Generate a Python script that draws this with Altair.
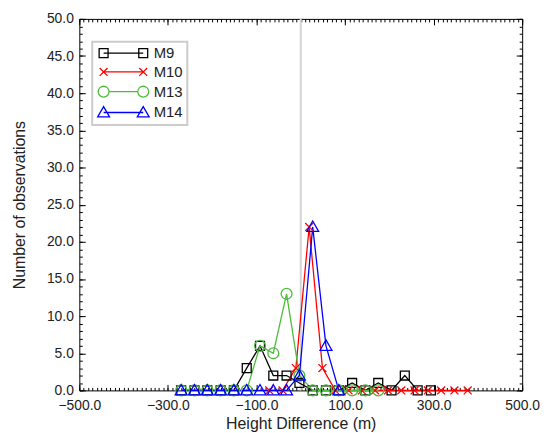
import altair as alt
import pandas as pd

series = ["M9", "M10", "M13", "M14"]
colors = ["#000000", "#ff0000", "#4cbc3a", "#0000ff"]

m9_x = [-270, -240, -211, -181, -151, -122, -92, -62, -32, -3, 27, 57, 86, 116, 146, 175, 205, 235, 264, 294]
m9_y = [0, 0, 0, 0, 0, 3, 6, 2, 2, 1, 0, 0, 0, 1, 0, 1, 0, 2, 0, 0]
m10_x = [-71, -41, -11, 19, 49, 78, 108, 138, 168, 197, 227, 257, 287, 317, 347, 377]
m10_y = [0, 0, 3, 22, 3, 0, 0, 0, 0, 0, 0, 0, 0, 0, 0, 0]
m13_x = [-270, -240, -211, -181, -151, -122, -92, -62, -32, -3, 27, 57, 86, 116, 146, 175]
m13_y = [0, 0, 0, 0, 0, 0, 6, 5, 13, 2, 0, 0, 0, 0, 0, 0]
m14_x = [-270, -240, -211, -181, -151, -122, -92, -62, -32, -3, 27, 57, 86]
m14_y = [0, 0, 0, 0, 0, 0, 0, 0, 0, 2, 22, 6, 0]

x_labels = [-500, -300, -100, 100, 300, 500]
y_labels = [0, 5, 10, 15, 20, 25, 30, 35, 40, 45, 50]
x_minor = list(range(-500, 501, 10))
y_minor = list(range(0, 51, 1))
zero_line = [0]

rows = []
for name, xs, ys in [("M9", m9_x, m9_y), ("M10", m10_x, m10_y),
                     ("M13", m13_x, m13_y), ("M14", m14_x, m14_y)]:
    for a, b in zip(xs, ys):
        rows.append({"x": a, "y": b, "series": name})
df = pd.DataFrame(rows)

sq = "M-0.9,-0.9H0.9V0.9H-0.9Z"
xx = "M-0.8,-0.8L0.8,0.8M-0.8,0.8L0.8,-0.8"
ci = "M1.1,0A1.1,1.1 0 1,1 -1.1,0A1.1,1.1 0 1,1 1.1,0Z"
tr = "M0,-1.2L1.2,0.9L-1.2,0.9Z"
point_shapes = [sq, xx, ci, tr]
legend_shapes = [
    "M0,0H8" + sq + "M7.1,-0.9H8.9V0.9H7.1Z",
    "M0,0H8" + xx + "M7.2,-0.8L8.8,0.8M7.2,0.8L8.8,-0.8",
    "M1.1,0H6.9" + ci + "M9.1,0A1.1,1.1 0 1,1 6.9,0A1.1,1.1 0 1,1 9.1,0Z",
    "M0,0H8" + tr + "M8,-1.2L9.2,0.9L6.8,0.9Z",
]

xscale = alt.Scale(domain=[-500, 500], nice=False, zero=False)
yscale = alt.Scale(domain=[0, 50], nice=False, zero=False)


def cscale():
    return alt.Scale(domain=series, range=colors)


FONT = "Liberation Sans"
TXT = "#222222"

main_x_axis = alt.Axis(orient="bottom", values=x_labels, format=".1f", title="Height Difference (m)",
                       ticks=False, domain=False, grid=False, labelPadding=8, titlePadding=3,
                       labelFontSize=14, titleFontSize=16, labelFont=FONT, titleFont=FONT,
                       labelColor=TXT, titleColor=TXT, titleFontWeight="normal", labelFlush=False)
main_y_axis = alt.Axis(orient="left", values=y_labels, format=".1f", title="Number of observations",
                       ticks=False, domain=False, grid=False, labelPadding=6, titlePadding=19,
                       labelFontSize=14, titleFontSize=16, labelFont=FONT, titleFont=FONT,
                       labelColor=TXT, titleColor=TXT, titleFontWeight="normal")


def tick_axis(orient, values, size):
    return alt.Axis(orient=orient, values=values, labels=False, domain=False, grid=False,
                    ticks=True, tickSize=size, offset=-size, title=None,
                    tickColor="#000000", tickWidth=1)


zero = alt.Chart(pd.DataFrame({"x": zero_line})).mark_rule(color="#d4d4d4", strokeWidth=2).encode(
    x=alt.X("x:Q", scale=xscale, axis=None)
)

lines = alt.Chart(df).mark_line(strokeWidth=1.3).encode(
    x=alt.X("x:Q", scale=xscale, axis=main_x_axis),
    y=alt.Y("y:Q", scale=yscale, axis=main_y_axis),
    color=alt.Color("series:N", scale=cscale(), legend=None),
)

points = alt.Chart(df).mark_point(filled=False, size=100, strokeWidth=1.3, opacity=1).encode(
    x=alt.X("x:Q", scale=xscale, axis=None),
    y=alt.Y("y:Q", scale=yscale, axis=None),
    color=alt.Color("series:N", scale=cscale(), legend=None),
    shape=alt.Shape("series:N", scale=alt.Scale(domain=series, range=point_shapes), legend=None),
)

leg = dict(title=None, orient="none", legendX=13, legendY=23)
legend_layer = alt.Chart(df).mark_point(filled=False, opacity=0).encode(
    x=alt.X("x:Q", scale=xscale, axis=None),
    y=alt.Y("y:Q", scale=yscale, axis=None),
    color=alt.Color("series:N", scale=cscale(), legend=alt.Legend(**leg)),
    shape=alt.Shape("series:N", scale=alt.Scale(domain=series, range=legend_shapes),
                    legend=alt.Legend(**leg)),
)


def tick_layer(xo, xv, xs, yo, yv, ys):
    return alt.Chart(df).mark_point(opacity=0).encode(
        x=alt.X("x:Q", scale=xscale, axis=tick_axis(xo, xv, xs)),
        y=alt.Y("y:Q", scale=yscale, axis=tick_axis(yo, yv, ys)),
    )


t1 = tick_layer("bottom", x_labels, 6, "left", y_labels, 6)
t2 = tick_layer("bottom", x_minor, 3, "left", y_minor, 3)
t3 = tick_layer("top", x_labels, 6, "right", y_labels, 6)
t4 = tick_layer("top", x_minor, 3, "right", y_minor, 3)

chart = alt.layer(zero, lines, points, legend_layer, t1, t2, t3, t4).resolve_scale(
    shape="independent", color="independent"
).resolve_axis(
    x="independent", y="independent"
).properties(
    width=447, height=375,
    padding={"left": 3, "top": 2, "right": 0, "bottom": 0},
).configure_view(
    stroke="#000000", strokeWidth=1
).configure_legend(
    padding=4,
    strokeColor="#cccccc", strokeWidth=2, fillColor="#ffffff", cornerRadius=0,
    symbolSize=100, symbolStrokeWidth=1.3, symbolOpacity=1, symbolFillColor="transparent",
    labelOffset=43, labelFontSize=15, labelFont=FONT, labelColor=TXT, rowPadding=3,
)

chart.save("out.html", embed_options={"renderer": "svg", "actions": False})
